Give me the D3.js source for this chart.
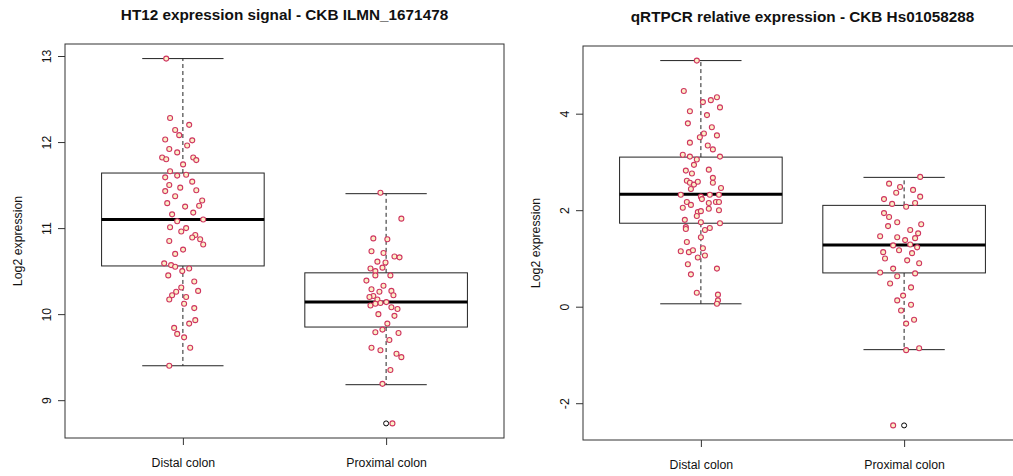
<!DOCTYPE html>
<html>
<head>
<meta charset="utf-8">
<script src="https://cdn.jsdelivr.net/npm/d3@7"></script>
<style>
  body { margin: 0; background: white; }
  svg { display: block; font-family: "Liberation Sans", Arial, sans-serif; }
</style>
</head>
<body>
<div id="chart"></div>
<script>
const groups = ["Distal colon", "Proximal colon"];

// HT12 array, CKB ILMN_1671478
const ht12Ticks = [9, 10, 11, 12, 13];
// box stats: lower whisker, Q1, median, Q3, upper whisker
const ht12Stats = [[9.40, 10.56, 11.10, 11.64, 12.97], [9.18, 9.85, 10.14, 10.48, 11.40]];
const ht12Outliers = [[], [8.73]];
const ht12DistalValues = [12.97, 12.28, 12.20, 12.14, 12.08, 12.03, 12.02, 11.96, 11.92, 11.88,
  11.82, 11.80, 11.82, 11.79, 11.74, 11.66, 11.61, 11.62, 11.59, 11.54, 11.50, 11.47, 11.44, 11.43,
  11.37, 11.32, 11.29, 11.25, 11.26, 11.18, 11.16, 11.10, 11.08, 11.01, 11.00, 10.96, 10.92, 10.85,
  10.89, 10.87, 10.81, 10.75, 10.70, 10.59, 10.57, 10.55, 10.50, 10.53, 10.45, 10.38, 10.31, 10.26,
  10.22, 10.20, 10.27, 10.17, 10.12, 10.07, 9.93, 9.89, 9.84, 9.77, 9.73, 9.61, 9.40];
const ht12DistalJitter = [-0.082, -0.063, 0.031, -0.038, -0.018, -0.087, 0.046, 0.021, -0.067, -0.028,
  -0.102, -0.082, 0.051, 0.066, 0.001, -0.063, -0.028, 0.016, -0.087, 0.046, -0.067, -0.013, 0.066, -0.087,
  -0.038, 0.095, -0.077, 0.011, 0.080, 0.051, -0.053, 0.100, -0.028, -0.063, 0.016, -0.008, 0.061, -0.067,
  0.046, 0.085, 0.100, 0.001, -0.038, -0.092, -0.058, -0.038, -0.003, 0.031, -0.072, 0.056, -0.008, -0.033,
  -0.053, 0.016, 0.075, -0.067, 0.006, 0.056, 0.061, 0.031, -0.043, -0.028, 0.006, 0.036, -0.067];
const ht12ProximalValues = [11.41, 11.11, 10.88, 10.87, 10.73, 10.71, 10.67, 10.66, 10.61, 10.60,
  10.53, 10.50, 10.54, 10.45, 10.39, 10.45, 10.33, 10.29, 10.26, 10.27, 10.21, 10.17, 10.22, 10.20,
  10.13, 10.14, 10.10, 10.12, 10.08, 10.06, 10.00, 9.98, 9.89, 9.82, 9.79, 9.78, 9.70, 9.61, 9.58,
  9.54, 9.50, 9.35, 9.19, 8.73];
const ht12ProximalJitter = [-0.028, 0.075, -0.063, 0.006, -0.072, -0.013, 0.041, 0.066, -0.043, -0.003,
  -0.077, -0.053, -0.018, 0.021, -0.097, -0.053, -0.013, -0.072, -0.033, 0.026, -0.063, -0.043, 0.036, -0.082,
  -0.028, 0.001, -0.077, -0.053, 0.026, 0.056, -0.038, 0.041, 0.006, -0.018, -0.053, 0.061, 0.016, -0.072,
  -0.028, 0.051, 0.075, 0.021, -0.018, 0.031];

// qRTPCR, CKB Hs01058288
const qpcrTicks = [-2, 0, 2, 4];
const qpcrStats = [[0.06, 1.73, 2.33, 3.10, 5.10], [-0.89, 0.70, 1.28, 2.10, 2.68]];
const qpcrOutliers = [[], [-2.46]];
const qpcrDistalValues = [5.10, 4.47, 4.34, 4.24, 4.28, 4.13, 4.05, 3.97, 3.80, 3.72,
  3.59, 3.55, 3.51, 3.40, 3.34, 3.26, 3.15, 3.11, 3.05, 3.11, 2.94, 2.82, 2.84, 2.76, 2.67,
  2.61, 2.57, 2.53, 2.59, 2.57, 2.46, 2.44, 2.32, 2.28, 2.23, 2.32, 2.32, 2.17, 2.11, 2.15,
  2.17, 2.17, 2.05, 2.03, 2.00, 1.96, 1.98, 1.88, 1.80, 1.65, 1.61, 1.75, 1.73, 1.59, 1.63,
  1.44, 1.34, 1.21, 1.15, 1.13, 1.17, 1.06, 1.02, 0.88, 0.79, 0.67, 0.29, 0.25, 0.13, 0.06];
const qpcrDistalJitter = [-0.020, -0.084, 0.079, 0.010, 0.049, 0.094, -0.054, 0.030, -0.064, 0.054,
  0.015, 0.079, -0.005, -0.054, 0.034, 0.059, -0.089, -0.054, -0.020, 0.094, -0.034, -0.074, 0.039, -0.044, 0.059,
  -0.069, -0.054, -0.034, -0.015, 0.059, 0.099, -0.049, -0.099, 0.000, 0.005, 0.044, 0.089, -0.069, -0.049, 0.039,
  0.074, 0.089, -0.089, 0.039, 0.089, -0.015, 0.000, -0.020, -0.079, -0.074, -0.074, 0.000, 0.094, 0.020, 0.044,
  0.000, -0.069, 0.010, -0.099, -0.059, -0.039, 0.020, -0.015, -0.064, 0.079, -0.049, -0.020, 0.084, 0.084, 0.079];
const qpcrProximalValues = [2.69, 2.55, 2.48, 2.42, 2.36, 2.28, 2.23, 2.13, 2.15, 2.07,
  1.94, 1.86, 1.75, 1.71, 1.67, 1.59, 1.52, 1.46, 1.44, 1.38, 1.42, 1.27, 1.29, 1.23,
  1.13, 1.17, 1.11, 1.00, 0.96, 0.90, 0.79, 0.71, 0.69, 0.63, 0.48, 0.40, 0.23, 0.13,
  0.04, -0.08, -0.27, -0.35, -0.90, -0.86, -2.46];
const qpcrProximalJitter = [0.079, -0.074, -0.020, 0.044, -0.039, 0.079, -0.099, -0.059, 0.054, 0.010,
  -0.099, -0.074, -0.034, 0.084, -0.079, 0.030, 0.069, -0.118, -0.034, 0.005, 0.054, -0.054, 0.030, 0.064,
  -0.103, -0.025, 0.039, -0.094, 0.015, 0.074, -0.054, -0.118, 0.054, -0.034, -0.069, 0.034, -0.005, -0.034,
  0.034, -0.015, 0.049, 0.010, 0.010, 0.074, -0.054];

const width = 1013;
const height = 476;

const svg = d3.select("#chart")
  .append("svg")
  .attr("width", width)
  .attr("height", height);

function drawPanel(p) {
  const g = svg.append("g");

  const allValues = p.series.flatMap(s => s.values).concat(p.outliers.flat());
  const [lo, hi] = d3.extent(allValues);
  const pad = (hi - lo) * 0.04;

  const x = d3.scaleLinear().domain([0.42, 2.58]).range([p.left, p.right]);
  const y = d3.scaleLinear().domain([lo - pad, hi + pad]).range([p.bottom, p.top]);
  const boxHalf = 0.4;
  const capHalf = 0.2;

  // boxes
  p.stats.forEach((s, i) => {
    const cx = i + 1;
    const [wLo, q1, med, q3, wHi] = s;
    g.append("line")
      .attr("x1", x(cx)).attr("x2", x(cx))
      .attr("y1", y(q3)).attr("y2", y(wHi))
      .attr("stroke", "#222").attr("stroke-dasharray", "4,3");
    g.append("line")
      .attr("x1", x(cx)).attr("x2", x(cx))
      .attr("y1", y(q1)).attr("y2", y(wLo))
      .attr("stroke", "#222").attr("stroke-dasharray", "4,3");
    [wLo, wHi].forEach(v => {
      g.append("line")
        .attr("x1", x(cx - capHalf)).attr("x2", x(cx + capHalf))
        .attr("y1", y(v)).attr("y2", y(v))
        .attr("stroke", "#222");
    });
    g.append("rect")
      .attr("x", x(cx - boxHalf))
      .attr("y", y(q3))
      .attr("width", x(cx + boxHalf) - x(cx - boxHalf))
      .attr("height", y(q1) - y(q3))
      .attr("fill", "white")
      .attr("stroke", "#222");
    g.append("line")
      .attr("x1", x(cx - boxHalf)).attr("x2", x(cx + boxHalf))
      .attr("y1", y(med)).attr("y2", y(med))
      .attr("stroke", "#000").attr("stroke-width", 3);
  });

  // outliers (boxplot default symbol)
  p.outliers.forEach((arr, i) => {
    g.selectAll(null)
      .data(arr)
      .enter()
      .append("circle")
        .attr("cx", x(i + 1))
        .attr("cy", d => y(d))
        .attr("r", 2.5)
        .attr("fill", "none")
        .attr("stroke", "#000");
  });

  // jittered points
  p.series.forEach((s, i) => {
    g.selectAll(null)
      .data(s.values.map((v, k) => ({ v, j: s.jitter[k] })))
      .enter()
      .append("circle")
        .attr("cx", d => x(i + 1 + d.j))
        .attr("cy", d => y(d.v))
        .attr("r", 2.5)
        .attr("fill", "#fcefc6")
        .attr("stroke", "#cf3560")
        .attr("stroke-width", 1.1);
  });

  // frame
  g.append("rect")
    .attr("x", p.left).attr("y", p.top)
    .attr("width", p.right - p.left).attr("height", p.bottom - p.top)
    .attr("fill", "none").attr("stroke", "#333");

  // y axis
  const yAxis = g.append("g")
    .attr("transform", `translate(${p.left},0)`)
    .call(d3.axisLeft(y).tickValues(p.ticks).tickSize(7).tickSizeOuter(0).tickFormat(d3.format("d")));
  yAxis.select(".domain").remove();
  yAxis.selectAll(".tick line").attr("stroke", "#333");
  yAxis.selectAll(".tick text")
    .attr("x", 0).attr("y", -14).attr("dy", 0)
    .attr("transform", "rotate(-90)")
    .attr("text-anchor", "middle")
    .attr("font-size", "12.3px")
    .attr("font-family", "Liberation Sans, Arial, sans-serif")
    .attr("fill", "#111")
    .text(d => d < 0 ? "-" + Math.abs(d) : d);

  // x axis
  const xAxis = g.append("g")
    .attr("transform", `translate(0,${p.bottom})`)
    .call(d3.axisBottom(x).tickValues([1, 2]).tickSize(7).tickSizeOuter(0).tickFormat(d => groups[d - 1]));
  xAxis.select(".domain").remove();
  xAxis.selectAll(".tick line").attr("stroke", "#333");
  xAxis.selectAll(".tick text")
    .attr("y", 29).attr("dy", 0)
    .attr("font-size", "12.3px")
    .attr("font-family", "Liberation Sans, Arial, sans-serif")
    .attr("fill", "#111");

  // y label
  g.append("text")
    .attr("transform", `translate(${p.left - 43},${(p.top + p.bottom) / 2}) rotate(-90)`)
    .attr("text-anchor", "middle")
    .attr("font-size", "12.3px")
    .attr("fill", "#111")
    .text("Log2 expression");

  // title
  g.append("text")
    .attr("x", (p.left + p.right) / 2)
    .attr("y", p.top - 24)
    .attr("text-anchor", "middle")
    .attr("font-size", "15.3px")
    .attr("font-weight", "bold")
    .attr("fill", "#111")
    .text(p.title);
}

drawPanel({
  title: "HT12 expression signal - CKB ILMN_1671478",
  left: 65, right: 504, top: 44, bottom: 438,
  ticks: ht12Ticks,
  stats: ht12Stats,
  outliers: ht12Outliers,
  series: [
    { values: ht12DistalValues, jitter: ht12DistalJitter },
    { values: ht12ProximalValues, jitter: ht12ProximalJitter }
  ]
});

drawPanel({
  title: "qRTPCR relative expression - CKB Hs01058288",
  left: 583, right: 1022, top: 46, bottom: 440,
  ticks: qpcrTicks,
  stats: qpcrStats,
  outliers: qpcrOutliers,
  series: [
    { values: qpcrDistalValues, jitter: qpcrDistalJitter },
    { values: qpcrProximalValues, jitter: qpcrProximalJitter }
  ]
});
</script>
</body>
</html>
